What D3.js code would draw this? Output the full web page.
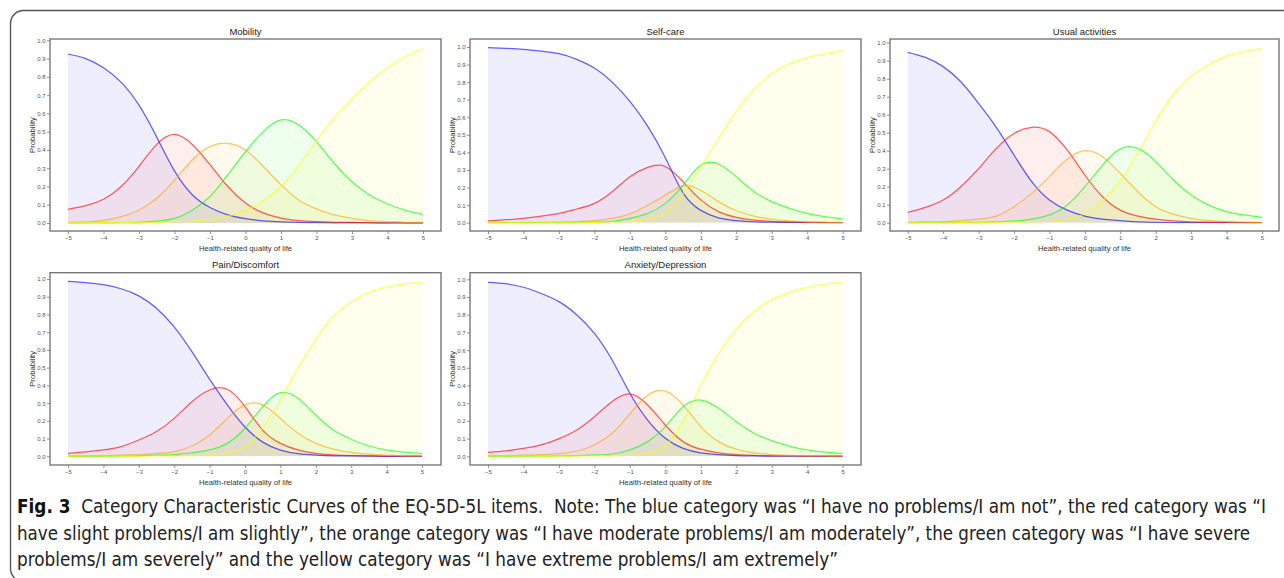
<!DOCTYPE html>
<html>
<head>
<meta charset="utf-8">
<script src="https://cdn.jsdelivr.net/npm/d3@7"></script>
<style>
  body { margin: 0; background: #fff; }
  svg { display: block; }
</style>
</head>
<body>
<svg id="chart" width="1284" height="578"></svg>
<script>
// ---------------- DATA ----------------
const xValues = [-5, -4.5, -4, -3.5, -3, -2.5, -2, -1.5, -1, -0.5, 0, 0.5, 1, 1.5, 2, 2.5, 3, 3.5, 4, 4.5, 5];
const xTicks = [-5, -4, -3, -2, -1, 0, 1, 2, 3, 4, 5];
const yTicks = [0, 0.1, 0.2, 0.3, 0.4, 0.5, 0.6, 0.7, 0.8, 0.9, 1.0];
const panelTitles = ["Mobility", "Self-care", "Usual activities", "Pain/Discomfort", "Anxiety/Depression"];
const categoryNames = ["no problems", "slight problems", "moderate problems", "severe problems", "extreme problems"];
const categoryColors = ["#0000ff", "#ff0000", "#ffa500", "#00ff00", "#ffff00"];
const xAxisTitle = "Health-related quality of life";
const yAxisTitle = "Probability";

// Mobility
const mobilityNone     = [.925,.9,.85,.77,.645,.47,.285,.155,.085,.045,.024,.012,.006,.003,.002,.001,.001,0,0,0,0];
const mobilitySlight   = [.075,.095,.13,.2,.31,.43,.485,.43,.32,.2,.11,.055,.027,.013,.007,.004,.003,.002,.001,.001,.001];
const mobilityModerate = [.004,.006,.014,.035,.07,.135,.235,.345,.418,.436,.4,.31,.21,.126,.077,.044,.026,.013,.007,.004,.003];
const mobilitySevere   = [0,0,0,0,.004,.01,.025,.07,.145,.263,.39,.5,.564,.537,.445,.327,.226,.153,.104,.071,.047];
const mobilityExtreme  = [.002,.002,.002,.002,.003,.004,.006,.01,.02,.038,.068,.12,.2,.315,.45,.575,.68,.775,.85,.91,.955];

// Self-care
const selfcareNone     = [.996,.992,.987,.977,.962,.93,.88,.8,.69,.55,.37,.17,.07,.028,.012,.005,.003,.002,.001,.001,0];
const selfcareSlight   = [.01,.017,.025,.037,.053,.078,.11,.176,.262,.315,.32,.233,.13,.063,.03,.015,.007,.004,.002,.001,.001];
const selfcareModerate = [.001,.001,.001,.002,.003,.006,.012,.025,.05,.1,.157,.21,.185,.12,.068,.038,.02,.01,.005,.003,.001];
const selfcareSevere   = [0,0,0,0,0,.001,.003,.008,.025,.053,.11,.214,.328,.334,.262,.176,.12,.082,.053,.034,.021];
const selfcareExtreme  = [.001,.001,.001,.001,.001,.001,.002,.004,.008,.02,.055,.165,.32,.48,.635,.76,.85,.905,.94,.962,.98];

// Usual activities
const usualNone     = [.946,.918,.867,.783,.663,.53,.376,.228,.126,.07,.037,.02,.011,.005,.002,.001,.001,0,0,0,0];
const usualSlight   = [.057,.085,.126,.2,.3,.413,.496,.53,.506,.404,.265,.144,.07,.037,.02,.01,.005,.003,.002,.001,.001];
const usualModerate = [.002,.004,.006,.012,.02,.037,.089,.163,.256,.352,.4,.367,.274,.172,.089,.048,.024,.012,.006,.003,.001];
const usualSevere   = [0,0,0,.001,.002,.005,.01,.02,.043,.098,.2,.32,.41,.413,.339,.237,.154,.098,.061,.043,.03];
const usualExtreme  = [.001,.001,.001,.001,.002,.002,.003,.004,.008,.02,.05,.12,.235,.39,.565,.715,.815,.88,.925,.952,.969];

// Pain/Discomfort
const painNone     = [.987,.98,.968,.945,.905,.835,.73,.59,.435,.29,.165,.08,.035,.015,.007,.003,.002,.001,0,0,0];
const painSlight   = [.017,.025,.036,.055,.092,.14,.214,.308,.374,.378,.28,.148,.073,.036,.017,.008,.004,.002,.001,.001,.001];
const painModerate = [.002,.003,.004,.007,.01,.016,.026,.058,.12,.214,.29,.29,.214,.13,.073,.04,.022,.012,.006,.003,.002];
const painSevere   = [0,0,0,.001,.003,.006,.01,.02,.036,.073,.158,.28,.359,.327,.233,.148,.096,.058,.036,.024,.017];
const painExtreme  = [.001,.001,.001,.001,.001,.002,.002,.003,.008,.02,.055,.16,.32,.5,.66,.79,.87,.925,.955,.972,.981];

// Anxiety/Depression
const anxietyNone     = [.983,.975,.955,.92,.874,.8,.695,.544,.356,.205,.102,.045,.02,.009,.004,.002,.001,.001,0,0,0];
const anxietySlight   = [.022,.03,.045,.065,.1,.149,.224,.309,.352,.29,.177,.083,.04,.02,.01,.005,.003,.002,.001,.001,.001];
const anxietyModerate = [.003,.004,.006,.009,.015,.03,.064,.13,.24,.345,.368,.29,.168,.083,.04,.02,.01,.005,.003,.002,.001];
const anxietySevere   = [0,0,0,.001,.002,.004,.008,.013,.036,.083,.168,.28,.318,.271,.196,.13,.089,.058,.036,.024,.017];
const anxietyExtreme  = [.001,.001,.001,.001,.001,.001,.002,.002,.006,.02,.06,.2,.4,.58,.72,.82,.885,.928,.955,.973,.985];

const captionBold = "Fig. 3";
const captionLines = [
  "  Category Characteristic Curves of the EQ-5D-5L items.  Note: The blue category was \u201cI have no problems/I am not\u201d, the red category was \u201cI",
  "have slight problems/I am slightly\u201d, the orange category was \u201cI have moderate problems/I am moderately\u201d, the green category was \u201cI have severe",
  "problems/I am severely\u201d and the yellow category was \u201cI have extreme problems/I am extremely\u201d"
];

// ---------------- LAYOUT ----------------
const panelSeries = [
  [mobilityNone, mobilitySlight, mobilityModerate, mobilitySevere, mobilityExtreme],
  [selfcareNone, selfcareSlight, selfcareModerate, selfcareSevere, selfcareExtreme],
  [usualNone, usualSlight, usualModerate, usualSevere, usualExtreme],
  [painNone, painSlight, painModerate, painSevere, painExtreme],
  [anxietyNone, anxietySlight, anxietyModerate, anxietySevere, anxietyExtreme]
];
const layout = [
  {box:[50,441,39,231],    xr:[68,423],     yr:[223,40.3]},
  {box:[470,861,39,231],   xr:[488,842.7],  yr:[222.7,47]},
  {box:[890,1279,39,231],  xr:[907.7,1262], yr:[222.7,42.7]},
  {box:[50,441,272.7,465], xr:[68,422],     yr:[456.3,279]},
  {box:[470,861,272.7,465],xr:[488,842.7],  yr:[456.3,279.3]}
];

const svg = d3.select("#chart");
const FONT = "'Liberation Sans', Arial, Helvetica, sans-serif";

svg.append("rect").attr("width",1284).attr("height",578).attr("fill","#fff");
// outer rounded frame
svg.append("rect")
  .attr("x",10.5).attr("y",10.5).attr("width",1320).attr("height",571)
  .attr("rx",13).attr("ry",13)
  .attr("fill","none").attr("stroke","#555").attr("stroke-width",1.4);

layout.forEach((L, pi) => {
  const [bx0,bx1,by0,by1] = L.box;
  const x = d3.scaleLinear().domain([-5,5]).range(L.xr);
  const y = d3.scaleLinear().domain([0,1]).range(L.yr);
  const g = svg.append("g");
  const clipA = "clipA" + pi, clipL = "clipL" + pi;
  svg.append("clipPath").attr("id", clipA).append("rect")
    .attr("x", L.xr[0]).attr("y", by0).attr("width", L.xr[1]-L.xr[0]).attr("height", L.yr[0]-by0);
  svg.append("clipPath").attr("id", clipL).append("rect")
    .attr("x", L.xr[0]-2).attr("y", by0).attr("width", L.xr[1]-L.xr[0]+4).attr("height", L.yr[0]-by0+0.7);

  const curve = d3.curveNatural;
  const area = d3.area().x((d,i)=>x(xValues[i])).y0(y(0)).y1(d=>y(d)).curve(curve);
  const line = d3.line().x((d,i)=>x(xValues[i])).y(d=>y(d)).curve(curve);

  const plot = g.append("g").attr("clip-path", `url(#${clipA})`);
  panelSeries[pi].forEach((s, ci) => {
    plot.append("path").attr("d", area(s)).attr("fill", categoryColors[ci]).attr("fill-opacity", 0.065).attr("stroke","none");
  });
  const lines = g.append("g").attr("clip-path", `url(#${clipL})`);
  panelSeries[pi].forEach((s, ci) => {
    lines.append("path").attr("d", line(s)).attr("fill","none")
      .attr("stroke", categoryColors[ci]).attr("stroke-opacity", 0.62).attr("stroke-width", 1.25);
  });

  // panel border
  g.append("rect").attr("x",bx0).attr("y",by0).attr("width",bx1-bx0).attr("height",by1-by0)
    .attr("fill","none").attr("stroke","#6e6e6e").attr("stroke-width",1.3);

  // axes
  const xa = g.append("g").attr("transform",`translate(0,${by1})`)
    .call(d3.axisBottom(x).tickValues(xTicks).tickSize(3).tickPadding(2).tickFormat(d3.format("d")));
  const ya = g.append("g").attr("transform",`translate(${bx0},0)`)
    .call(d3.axisLeft(y).tickValues(yTicks).tickSize(3).tickPadding(1.5).tickFormat(d3.format(".1f")));
  [xa, ya].forEach(a => {
    a.select(".domain").remove();
    a.selectAll(".tick line").attr("stroke","#777").attr("stroke-width",0.8);
    a.selectAll(".tick text").attr("fill","#555").style("font-family",FONT).style("font-size","6px");
  });

  const cx = (bx0+bx1)/2;
  g.append("text").attr("x",cx).attr("y",by0-4.5).attr("text-anchor","middle")
    .style("font-family",FONT).style("font-size","9.5px").attr("fill","#222").text(panelTitles[pi]);
  g.append("text").attr("x",cx).attr("y",by1+19.5).attr("text-anchor","middle")
    .style("font-family",FONT).style("font-size","7.7px").attr("fill","#333").text(xAxisTitle);
  g.append("text").attr("transform",`translate(${bx0-18},${(by0+by1)/2}) rotate(-90)`)
    .attr("text-anchor","middle").attr("dy","0.35em")
    .style("font-family",FONT).style("font-size","7.7px").attr("fill","#333").text(yAxisTitle);
});

// caption
const CAPFONT = "'Liberation Sans Narrow', 'DejaVu Sans Condensed', 'Open Sans', sans-serif";
const capBase = [513, 540, 566];
const capWidths = [1249, 1233, 821];
captionLines.forEach((t, i) => {
  const tx = svg.append("text").attr("x",17).attr("y",capBase[i])
    .attr("textLength",capWidths[i]).attr("lengthAdjust","spacingAndGlyphs")
    .style("white-space","pre")
    .style("font-family",CAPFONT).style("font-size","19px").attr("fill","#222");
  if (i === 0) {
    tx.append("tspan").attr("font-weight","bold").attr("fill","#111").text(captionBold);
  }
  tx.append("tspan").text(t);
});
</script>
</body>
</html>
